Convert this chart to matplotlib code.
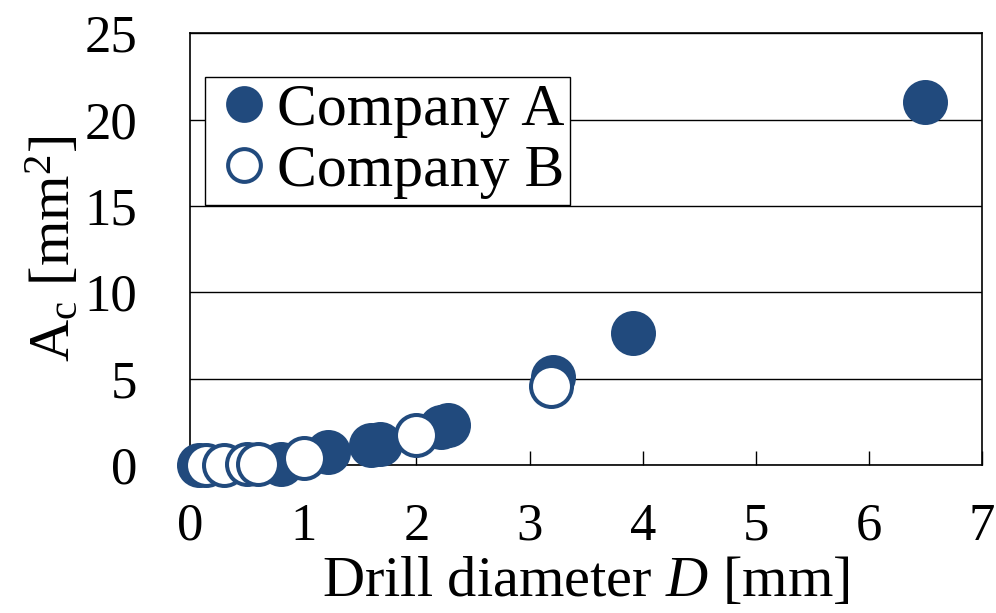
import numpy as np
import matplotlib.pyplot as plt

plt.rcParams['font.family'] = ['Liberation Serif', 'DejaVu Serif']
plt.rcParams['mathtext.fontset'] = 'custom'
plt.rcParams['mathtext.rm'] = 'Liberation Serif'
plt.rcParams['mathtext.it'] = 'Liberation Serif:italic'

# drill diameter D [mm] and cross-section area Ac [mm^2]
d_a = np.array([0.08, 0.8, 1.22, 1.6, 1.68, 2.22, 2.28, 3.21, 3.91, 6.5])
ac_a = np.array([0.0, 0.1, 0.75, 1.2, 1.25, 2.2, 2.35, 5.1, 7.67, 21.0])
d_b = np.array([0.14, 0.3, 0.5, 0.6, 1.01, 2.0, 3.19])
ac_b = np.array([0.0, 0.0, 0.05, 0.1, 0.4, 1.74, 4.6])

col = '#214a7d'

fig = plt.figure(figsize=(9.96, 6.13), dpi=100)
ax = fig.add_axes([0.191, 0.241, 0.795, 0.705])

ax.plot(d_a, ac_a, 'o', ms=29.5, mfc=col, mec=col, mew=2.9, ls='none',
        clip_on=False, zorder=3, label='Company A')
ax.plot(d_b, ac_b, 'o', ms=29.5, mfc='white', mec=col, mew=2.9, ls='none',
        clip_on=False, zorder=3, label='Company B')

ax.set_xlim(0, 7)
ax.set_ylim(0, 25)
ax.set_xticks(range(0, 8))
ax.set_yticks(range(0, 26, 5))
ax.yaxis.grid(True, color='black', lw=1.0)
ax.set_axisbelow(True)
ax.tick_params(axis='x', direction='in', length=10, width=1, labelsize=38, pad=27)
ax.tick_params(axis='y', length=0, labelsize=38, pad=38)
for s in ax.spines.values():
    s.set_linewidth(1.2)

ax.set_xlabel(r'Drill diameter $\mathit{D}$ [mm]', fontsize=42, labelpad=4)
ax.set_ylabel(r'A$_\mathrm{c}$ [mm$^2$]', fontsize=42, labelpad=2)

leg = ax.legend(loc='upper left', bbox_to_anchor=(0.019, 0.898), fontsize=43,
                markerscale=0.8, frameon=True, fancybox=False, edgecolor='black',
                framealpha=1, handletextpad=0.0, handlelength=1.1,
                borderpad=0.1, labelspacing=0.1, borderaxespad=0)
leg.get_frame().set_linewidth(1.0)

fig.savefig('out.png', dpi=100)
